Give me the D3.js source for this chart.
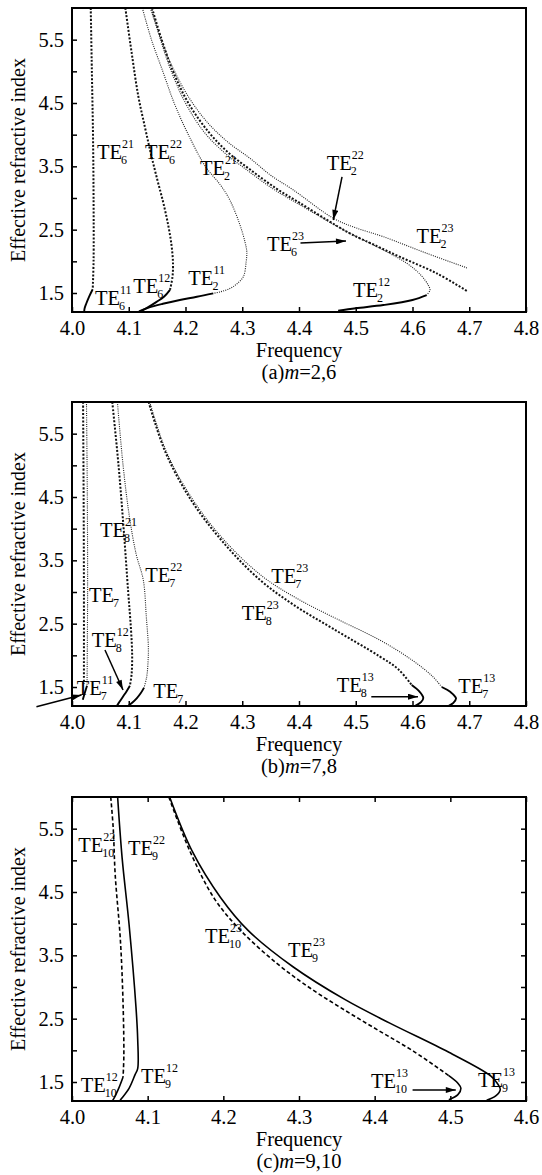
<!DOCTYPE html>
<html><head><meta charset="utf-8">
<script src="https://cdn.jsdelivr.net/npm/d3@7"></script>
<style>
body{margin:0;background:#fff}
svg{display:block}
text{font-family:"Liberation Serif","Times New Roman",serif;fill:#000}
</style>
</head><body>
<svg id="chart" width="542" height="1175"></svg>
<script>
// ---------- tick values ----------
const xTicksAB = [4.0, 4.1, 4.2, 4.3, 4.4, 4.5, 4.6, 4.7, 4.8];
const xTicksC  = [4.0, 4.1, 4.2, 4.3, 4.4, 4.5, 4.6];
const yTicks   = [1.5, 2.0, 2.5, 3.0, 3.5, 4.0, 4.5, 5.0, 5.5];
const yTickLabels = [1.5, 2.5, 3.5, 4.5, 5.5];

// ---------- panel (a) m=2,6 : [frequency, effective index] ----------
const a_TE6_21 = [[4.033,6.0],[4.035,5.0],[4.037,4.0],[4.038,3.0],[4.038,2.0],[4.0365,1.56]];
const a_TE6_11 = [[4.0365,1.56],[4.030,1.44],[4.025,1.33],[4.022,1.25],[4.0215,1.2]];
const a_TE6_22 = [[4.094,6.0],[4.105,5.3],[4.117,4.6],[4.129,4.1],[4.139,3.7],[4.150,3.3],[4.161,2.92],[4.170,2.55],[4.1757,2.23],[4.178,1.95],[4.177,1.75],[4.1727,1.55]];
const a_TE6_12 = [[4.1727,1.55],[4.162,1.44],[4.149,1.36],[4.135,1.28],[4.121,1.21]];
const a_TE2_21 = [[4.124,6.0],[4.14,5.5],[4.16,5.0],[4.18,4.5],[4.205,4.0],[4.235,3.5],[4.262,3.2],[4.278,2.97],[4.295,2.6],[4.305,2.3],[4.308,2.15],[4.307,2.0],[4.302,1.76],[4.29,1.64],[4.278,1.57],[4.262,1.52],[4.249,1.495]];
const a_TE2_11 = [[4.249,1.495],[4.22,1.44],[4.19,1.39],[4.16,1.33],[4.135,1.27],[4.118,1.21]];
const a_TE6_23 = [[4.141,6.0],[4.158,5.5],[4.178,5.0],[4.205,4.5],[4.24,4.05],[4.275,3.72],[4.3137,3.45],[4.36,3.15],[4.4017,2.92],[4.45,2.65],[4.4899,2.44],[4.535,2.25],[4.578,2.07],[4.6427,1.81],[4.698,1.52]];
const a_TE2_23 = [[4.138,6.0],[4.157,5.5],[4.178,5.05],[4.205,4.6],[4.238,4.2],[4.275,3.88],[4.3137,3.626],[4.35,3.36],[4.39,3.127],[4.4605,2.68],[4.5,2.53],[4.5486,2.389],[4.625,2.127],[4.698,1.89]];
const a_TE2_22 = [[4.140,6.0],[4.156,5.5],[4.175,5.0],[4.2,4.5],[4.232,4.05],[4.268,3.72],[4.307,3.45],[4.355,3.14],[4.40,2.9],[4.45,2.64],[4.49,2.44],[4.535,2.24],[4.5898,1.97],[4.615,1.78],[4.628,1.62],[4.6308,1.547],[4.625,1.468]];
const a_TE2_12 = [[4.625,1.468],[4.60,1.39],[4.5486,1.31],[4.50,1.26],[4.469,1.22]];

// ---------- panel (b) m=7,8 ----------
const b_TE8_L  = [[4.0195,6.0],[4.0205,4.5],[4.021,3.0],[4.021,1.55]];
const b_TE7_21 = [[4.0255,6.0],[4.027,4.5],[4.0275,3.0],[4.0265,1.52]];
const b_TE7_11 = [[4.0265,1.52],[4.023,1.42],[4.019,1.30]];
const b_TE8_21 = [[4.071,6.0],[4.082,5.0],[4.091,4.0],[4.099,3.0],[4.104,2.4],[4.106,2.0],[4.105,1.7],[4.102,1.52]];
const b_TE8_12 = [[4.102,1.52],[4.096,1.43],[4.090,1.35],[4.084,1.27],[4.079,1.2]];
const b_TE7_22 = [[4.080,6.0],[4.090,5.0],[4.101,4.2],[4.113,3.6],[4.1256,3.19],[4.131,2.6],[4.1345,2.14],[4.134,1.9],[4.1316,1.66],[4.127,1.49]];
const b_TE7_12 = [[4.127,1.49],[4.121,1.40],[4.114,1.32],[4.106,1.25],[4.099,1.2]];
const b_TE8_23 = [[4.135,6.0],[4.165,5.2],[4.21,4.45],[4.265,3.8],[4.33,3.2],[4.39,2.80],[4.46,2.42],[4.5427,1.98],[4.575,1.78],[4.5986,1.53]];
const b_TE8_13 = [[4.5986,1.53],[4.612,1.43],[4.619,1.33],[4.615,1.26],[4.604,1.2]];
const b_TE7_23 = [[4.137,6.0],[4.167,5.2],[4.212,4.47],[4.267,3.83],[4.335,3.25],[4.40,2.88],[4.47,2.56],[4.5427,2.24],[4.60,1.92],[4.635,1.67],[4.6515,1.5]];
const b_TE7_13 = [[4.6515,1.5],[4.667,1.42],[4.6767,1.32],[4.672,1.25],[4.663,1.2]];

// ---------- panel (c) m=9,10 ----------
const c_TE10_22 = [[4.0512,6.0],[4.0545,5.5],[4.0571,4.77],[4.064,3.73],[4.0676,2.69],[4.0685,1.9],[4.0675,1.58]];
const c_TE10_12 = [[4.0675,1.58],[4.0617,1.40],[4.0548,1.23],[4.053,1.2]];
const c_TE9_22  = [[4.0603,6.0],[4.0663,5.03],[4.0754,3.99],[4.0845,2.69],[4.0868,2.18],[4.0868,1.71],[4.0835,1.62],[4.0754,1.40],[4.0649,1.23],[4.063,1.2]];
const c_TE10_23 = [[4.128,6.0],[4.156,5.14],[4.189,4.38],[4.224,3.88],[4.27,3.38],[4.315,2.98],[4.361,2.63],[4.407,2.30],[4.452,1.98],[4.498,1.60]];
const c_TE10_13 = [[4.498,1.60],[4.510,1.48],[4.514,1.40],[4.510,1.30],[4.498,1.22]];
const c_TE9_23  = [[4.129,6.0],[4.159,5.14],[4.1965,4.41],[4.233,3.89],[4.292,3.32],[4.361,2.8],[4.42,2.43],[4.498,1.97],[4.553,1.60],[4.562,1.48],[4.566,1.38],[4.560,1.28],[4.548,1.21]];

// ---------- annotation labels (mode sub, sup; anchored in data units) ----------
const labelsA = [
  {sub:"6", sup:"21", f:4.0441, n:3.62}, {sub:"6", sup:"22", f:4.1286, n:3.62},
  {sub:"2", sup:"21", f:4.2256, n:3.363}, {sub:"2", sup:"22", f:4.4488, n:3.442},
  {sub:"6", sup:"23", f:4.3436, n:2.163}, {sub:"2", sup:"23", f:4.607, n:2.289},
  {sub:"6", sup:"11", f:4.0405, n:1.311}, {sub:"6", sup:"12", f:4.108, n:1.50},
  {sub:"2", sup:"11", f:4.205, n:1.626}, {sub:"2", sup:"12", f:4.495, n:1.437}
];
const arrowsA = [
  {f1:4.4758, n1:3.332, f2:4.4604, n2:2.653},
  {f1:4.4026, n1:2.289, f2:4.4828, n2:2.321}
];
const labelsB = [
  {sub:"8", sup:"21", f:4.0493, n:3.868}, {sub:"7", sup:"22", f:4.129, n:3.163},
  {sub:"7", sup:"",   f:4.030, n:2.842},  {sub:"8", sup:"12", f:4.0347, n:2.132},
  {sub:"7", sup:"11", f:4.0083, n:1.374}, {sub:"7", sup:"",   f:4.1433, n:1.326},
  {sub:"7", sup:"23", f:4.351, n:3.137},  {sub:"8", sup:"23", f:4.2992, n:2.558},
  {sub:"8", sup:"13", f:4.4666, n:1.426}, {sub:"7", sup:"13", f:4.6807, n:1.405}
];
const arrowsB = [
  {f1:4.0581, n1:2.084, f2:4.0899, n2:1.453},
  {f1:3.9373, n1:1.189, f2:4.0167, n2:1.374},
  {f1:4.5274, n1:1.347, f2:4.6097, n2:1.347}
];
const labelsC = [
  {sub:"10", sup:"22", f:4.0082, n:5.137}, {sub:"9", sup:"22", f:4.074, n:5.084},
  {sub:"10", sup:"23", f:4.1758, n:3.690}, {sub:"9", sup:"23", f:4.2855, n:3.478},
  {sub:"10", sup:"12", f:4.0114, n:1.347}, {sub:"9", sup:"12", f:4.0912, n:1.479},
  {sub:"10", sup:"13", f:4.3952, n:1.40},  {sub:"9", sup:"13", f:4.5366, n:1.426}
];
const arrowsC = [
  {f1:4.4501, n1:1.374, f2:4.5072, n2:1.374}
];

// ---------- styles ----------
const STYLE = {
  heavy: {w:2.0, dash:"2,1.7", color:"#111"},
  fine:  {w:1.1, dash:"1,1.2", color:"#222"},
  solid: {w:1.9, dash:null, color:"#000"},
  dash:  {w:1.6, dash:"4,2.5", color:"#000"},
  solidC:{w:1.6, dash:null, color:"#000"}
};

const svg = d3.select("#chart");
const defs = svg.append("defs");
defs.append("marker").attr("id","arr").attr("viewBox","0 0 10 6")
  .attr("refX",10).attr("refY",3).attr("markerWidth",11).attr("markerHeight",6)
  .attr("markerUnits","userSpaceOnUse").attr("orient","auto")
  .append("path").attr("d","M0,0L10,3L0,6Z").attr("fill","#000");

const L = 72, R = 526, H = 304;

function panel(cfg, idx) {
  const top = cfg.top;
  const x = d3.scaleLinear().domain(cfg.xDomain).range([L, R]);
  const y = d3.scaleLinear().domain([1.2, 6.0]).range([top + H, top]);
  const g = svg.append("g");

  const clipId = "clip" + idx;
  defs.append("clipPath").attr("id", clipId).append("rect")
    .attr("x", L).attr("y", top).attr("width", R - L).attr("height", H);

  // axes
  const ax = g.append("g").attr("transform", `translate(0,${top + H})`)
    .call(d3.axisBottom(x).tickValues(cfg.xTicks).tickSize(-5).tickPadding(8).tickFormat(d3.format(".1f")));
  const ay = g.append("g").attr("transform", `translate(${L},0)`)
    .call(d3.axisLeft(y).tickValues(yTicks).tickSize(-5).tickPadding(8)
      .tickFormat(d => yTickLabels.includes(d) ? d3.format(".1f")(d) : ""));
  const axes = [ax, ay];
  if (cfg.allSides) {
    axes.push(g.append("g").attr("transform", `translate(0,${top})`)
      .call(d3.axisTop(x).tickValues(cfg.xTicks).tickSize(-5).tickFormat("")));
    axes.push(g.append("g").attr("transform", `translate(${R},0)`)
      .call(d3.axisRight(y).tickValues(yTicks).tickSize(-5).tickFormat("")));
  }
  axes.forEach(a => {
    a.select(".domain").remove();
    a.selectAll("line").attr("stroke", "#000").attr("stroke-width", 1.5);
    a.selectAll("text").attr("font-size", 20.5).attr("font-family", '"Liberation Serif","Times New Roman",serif');
  });

  // curves
  const line = d3.line().x(d => x(d[0])).y(d => y(d[1])).curve(d3.curveCatmullRom.alpha(0.5));
  const cg = g.append("g").attr("clip-path", `url(#${clipId})`);
  cfg.curves.forEach(c => {
    const s = STYLE[c.style];
    cg.append("path").attr("d", line(c.data)).attr("fill", "none")
      .attr("stroke", s.color).attr("stroke-width", s.w)
      .attr("stroke-dasharray", s.dash);
  });

  // frame
  g.append("rect").attr("x", L).attr("y", top).attr("width", R - L).attr("height", H)
    .attr("fill", "none").attr("stroke", "#000").attr("stroke-width", 2);

  // labels
  cfg.labels.forEach(lb => {
    const px = x(lb.f), py = y(lb.n);
    const t = g.append("text").attr("x", px).attr("y", py).attr("font-size", 20.5).text("TE");
    const w = t.node().getComputedTextLength();
    if (lb.sup) g.append("text").attr("x", px + w).attr("y", py - 11).attr("font-size", 12).text(lb.sup);
    if (lb.sub) g.append("text").attr("x", px + w - 1).attr("y", py + 5).attr("font-size", 12).text(lb.sub);
  });

  // arrows
  cfg.arrows.forEach(a => {
    g.append("line").attr("x1", x(a.f1)).attr("y1", y(a.n1)).attr("x2", x(a.f2)).attr("y2", y(a.n2))
      .attr("stroke", "#000").attr("stroke-width", 1.5).attr("marker-end", "url(#arr)");
  });

  // titles
  g.append("text").attr("x", (L + R) / 2).attr("y", top + H + 45).attr("text-anchor", "middle")
    .attr("font-size", 20.5).text("Frequency");
  g.append("text").attr("transform", `translate(25,${top + H / 2}) rotate(-90)`)
    .attr("text-anchor", "middle").attr("font-size", 20).text("Effective refractive index");
  const cap = g.append("text").attr("x", (L + R) / 2).attr("y", top + H + 67)
    .attr("text-anchor", "middle").attr("font-size", 20.5);
  cap.append("tspan").text(cfg.capPre);
  cap.append("tspan").attr("font-style", "italic").text("m");
  cap.append("tspan").text(cfg.capPost);
}

panel({
  top: 8, xDomain: [4.0, 4.8], xTicks: xTicksAB, allSides: false,
  curves: [
    {data: a_TE6_21, style: "heavy"}, {data: a_TE6_11, style: "solid"},
    {data: a_TE6_22, style: "heavy"}, {data: a_TE6_12, style: "solid"},
    {data: a_TE2_21, style: "fine"},  {data: a_TE2_11, style: "solid"},
    {data: a_TE6_23, style: "heavy"}, {data: a_TE2_23, style: "fine"},
    {data: a_TE2_22, style: "fine"},  {data: a_TE2_12, style: "solid"}
  ],
  labels: labelsA, arrows: arrowsA, capPre: "(a)", capPost: "=2,6"
}, 0);

panel({
  top: 402, xDomain: [4.0, 4.8], xTicks: xTicksAB, allSides: false,
  curves: [
    {data: b_TE8_L, style: "heavy"},  {data: b_TE7_21, style: "fine"},
    {data: b_TE7_11, style: "solid"},
    {data: b_TE8_21, style: "heavy"}, {data: b_TE8_12, style: "solid"},
    {data: b_TE7_22, style: "fine"},  {data: b_TE7_12, style: "solid"},
    {data: b_TE8_23, style: "heavy"}, {data: b_TE8_13, style: "solid"},
    {data: b_TE7_23, style: "fine"},  {data: b_TE7_13, style: "solid"}
  ],
  labels: labelsB, arrows: arrowsB, capPre: "(b)", capPost: "=7,8"
}, 1);

panel({
  top: 797, xDomain: [4.0, 4.6], xTicks: xTicksC, allSides: true,
  curves: [
    {data: c_TE10_22, style: "dash"}, {data: c_TE10_12, style: "solidC"},
    {data: c_TE9_22, style: "solidC"},
    {data: c_TE10_23, style: "dash"}, {data: c_TE10_13, style: "solidC"},
    {data: c_TE9_23, style: "solidC"}
  ],
  labels: labelsC, arrows: arrowsC, capPre: "(c)", capPost: "=9,10"
}, 2);
</script>
</body></html>
